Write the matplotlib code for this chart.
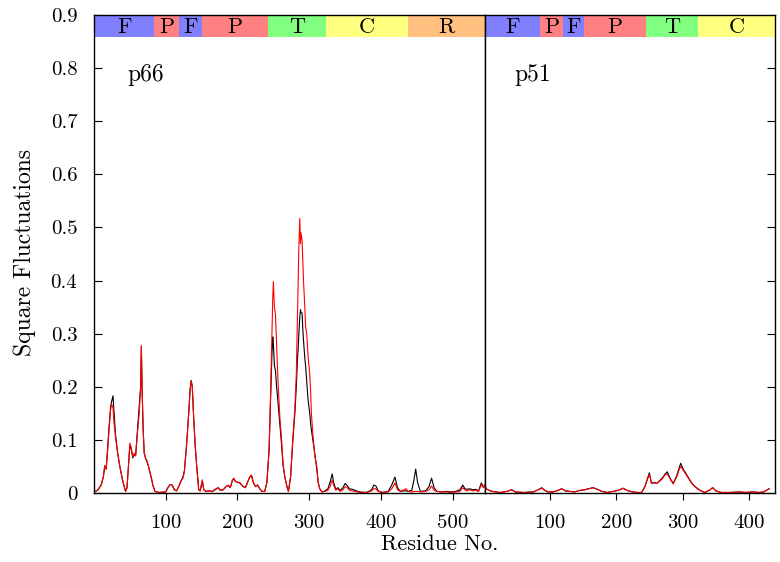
import matplotlib
matplotlib.use('Agg')
import matplotlib.pyplot as plt

plt.rcParams['font.family'] = 'serif'
plt.rcParams['font.serif'] = ['cmr10', 'DejaVu Serif']
plt.rcParams['axes.formatter.use_mathtext'] = True

# p66 chain: residue, black curve, red curve
p66_res = [0, 5, 10, 13, 15, 17, 19, 21, 23, 24.5, 26.5, 28, 30, 33, 36, 40, 44, 46, 48, 50,
           52, 54, 56, 58, 61, 63, 65, 66, 67, 68.5, 70, 72, 74, 76, 78, 80, 82, 85, 90, 100,
           103, 106, 109, 112, 115, 119, 121, 124, 126, 129, 132, 134, 135.5, 137, 139, 141, 143.5, 146, 148, 151,
           153, 156, 160, 165, 170, 173, 176, 180, 184, 187, 190, 193, 195, 197, 200, 203, 206, 208, 211, 214,
           217, 219.5, 222, 225, 228, 231, 234, 238, 241, 244, 246, 248, 249.2, 250, 251.5, 253, 254.5, 256.5, 259, 261.5,
           263.5, 266, 269, 271, 274, 277, 280, 282, 283.5, 284.5, 285.5, 286.8, 287.8, 288.5, 290, 291, 292, 293.5, 295, 296.5,
           298.4, 300.7, 302, 303, 305, 307.7, 310.5, 312.5, 314.6, 318, 322, 326, 329, 332, 334, 337, 340, 343, 347, 350,
           353, 356, 360, 364, 370, 380, 387, 390, 393, 396, 402, 410, 415, 419.5, 423, 427, 432, 435, 438, 443,
           446, 448.4, 451, 455, 462, 467, 470.5, 474, 478, 485, 492, 498, 504, 510, 514, 517, 520, 524, 528, 532,
           536, 540, 543, 544.5]
p66_black = [0.002, 0.005, 0.015, 0.03, 0.05, 0.045, 0.085, 0.125, 0.16, 0.172, 0.183, 0.15, 0.11, 0.075, 0.05, 0.022, 0.003, 0.01, 0.05, 0.09,
             0.082, 0.066, 0.072, 0.07, 0.125, 0.16, 0.2, 0.275, 0.2, 0.12, 0.075, 0.065, 0.058, 0.05, 0.038, 0.028, 0.015, 0.003, 0.001, 0.002,
             0.01, 0.016, 0.015, 0.006, 0.004, 0.015, 0.022, 0.03, 0.042, 0.09, 0.15, 0.195, 0.212, 0.2, 0.14, 0.09, 0.045, 0.006, 0.004, 0.022,
             0.006, 0.003, 0.004, 0.003, 0.007, 0.01, 0.005, 0.006, 0.012, 0.014, 0.01, 0.024, 0.027, 0.022, 0.02, 0.019, 0.015, 0.012, 0.01, 0.02,
             0.03, 0.033, 0.02, 0.012, 0.015, 0.008, 0.003, 0.003, 0.02, 0.08, 0.17, 0.26, 0.294, 0.28, 0.24, 0.23, 0.2, 0.17, 0.13, 0.09,
             0.052, 0.03, 0.012, 0.003, 0.03, 0.095, 0.15, 0.2, 0.25, 0.27, 0.3, 0.33, 0.345, 0.34, 0.339, 0.31, 0.288, 0.26, 0.238, 0.21,
             0.175, 0.15, 0.13, 0.119, 0.1, 0.075, 0.045, 0.02, 0.008, 0.002, 0.004, 0.008, 0.02, 0.036, 0.02, 0.007, 0.01, 0.005, 0.01, 0.018,
             0.014, 0.008, 0.007, 0.005, 0.002, 0.001, 0.006, 0.015, 0.013, 0.004, 0.001, 0.003, 0.015, 0.03, 0.01, 0.003, 0.004, 0.004, 0.003, 0.005,
             0.025, 0.045, 0.02, 0.003, 0.004, 0.012, 0.028, 0.01, 0.003, 0.002, 0.003, 0.002, 0.003, 0.006, 0.015, 0.008, 0.007, 0.008, 0.006, 0.007,
             0.004, 0.019, 0.01, 0.015]
p66_red = [0.002, 0.005, 0.015, 0.03, 0.052, 0.045, 0.08, 0.12, 0.155, 0.168, 0.16, 0.13, 0.105, 0.075, 0.05, 0.024, 0.003, 0.01, 0.05, 0.094,
           0.085, 0.068, 0.075, 0.07, 0.12, 0.15, 0.2, 0.278, 0.2, 0.12, 0.075, 0.065, 0.06, 0.05, 0.04, 0.028, 0.015, 0.003, 0.001, 0.002,
           0.01, 0.016, 0.015, 0.006, 0.004, 0.015, 0.022, 0.028, 0.04, 0.09, 0.15, 0.195, 0.21, 0.2, 0.14, 0.09, 0.045, 0.006, 0.004, 0.025,
           0.006, 0.003, 0.004, 0.003, 0.008, 0.01, 0.005, 0.006, 0.012, 0.015, 0.01, 0.025, 0.028, 0.022, 0.02, 0.02, 0.015, 0.012, 0.01, 0.02,
           0.03, 0.034, 0.02, 0.012, 0.015, 0.008, 0.003, 0.003, 0.02, 0.08, 0.18, 0.3, 0.37, 0.398, 0.35, 0.335, 0.28, 0.21, 0.144, 0.1,
           0.056, 0.03, 0.012, 0.003, 0.03, 0.1, 0.16, 0.225, 0.33, 0.4, 0.46, 0.517, 0.47, 0.49, 0.476, 0.44, 0.4, 0.36, 0.313, 0.3,
           0.257, 0.225, 0.19, 0.15, 0.112, 0.07, 0.05, 0.02, 0.008, 0.002, 0.003, 0.005, 0.012, 0.024, 0.015, 0.005, 0.008, 0.003, 0.006, 0.012,
           0.01, 0.005, 0.004, 0.003, 0.001, 0.001, 0.004, 0.008, 0.008, 0.003, 0.001, 0.002, 0.008, 0.019, 0.006, 0.003, 0.006, 0.008, 0.003, 0.002,
           0.003, 0.003, 0.003, 0.002, 0.003, 0.006, 0.013, 0.005, 0.003, 0.002, 0.002, 0.001, 0.002, 0.003, 0.01, 0.006, 0.004, 0.006, 0.004, 0.005,
           0.003, 0.016, 0.01, 0.015]

# p51 chain
p51_res = [2, 5, 10, 17, 25, 35, 42, 48, 60, 75, 82, 87.5, 92, 97, 105, 112, 117.6, 123, 130, 137,
           145, 152, 158, 165, 171, 178, 186, 195, 203, 210, 216, 224, 232, 238, 243, 247, 249.6, 253, 257, 261,
           265, 269, 273, 276.7, 280.8, 285.6, 290.8, 294, 296.8, 300.7, 304.7, 309, 313.4, 318.4, 323, 326, 333, 340, 345, 350,
           358, 370, 385, 395, 405, 415, 422, 426, 430]
p51_black = [0.012, 0.007, 0.004, 0.002, 0.001, 0.003, 0.006, 0.002, 0.001, 0.002, 0.006, 0.01, 0.005, 0.002, 0.002, 0.005, 0.008, 0.004, 0.003, 0.002,
             0.005, 0.006, 0.008, 0.01, 0.007, 0.003, 0.001, 0.003, 0.005, 0.009, 0.005, 0.002, 0.001, 0.001, 0.012, 0.028, 0.038, 0.018, 0.02, 0.018,
             0.023, 0.028, 0.035, 0.04, 0.028, 0.018, 0.032, 0.045, 0.056, 0.045, 0.037, 0.028, 0.019, 0.012, 0.008, 0.005, 0.001, 0.005, 0.01, 0.004,
             0.001, 0.001, 0.002, 0.001, 0.002, 0.001, 0.002, 0.005, 0.008]
p51_red = [0.01, 0.007, 0.004, 0.002, 0.001, 0.003, 0.006, 0.002, 0.001, 0.002, 0.006, 0.009, 0.005, 0.002, 0.002, 0.005, 0.008, 0.004, 0.003, 0.002,
           0.005, 0.006, 0.008, 0.01, 0.007, 0.003, 0.001, 0.003, 0.005, 0.009, 0.005, 0.002, 0.001, 0.001, 0.012, 0.026, 0.035, 0.018, 0.019, 0.018,
           0.022, 0.026, 0.034, 0.036, 0.027, 0.017, 0.03, 0.042, 0.05, 0.043, 0.035, 0.027, 0.018, 0.012, 0.007, 0.005, 0.001, 0.005, 0.01, 0.004,
           0.001, 0.001, 0.002, 0.001, 0.002, 0.001, 0.002, 0.005, 0.008]

# subdomain bars (boundaries, labels); last boundary = panel end
p66_dom_edges = [0, 84, 119, 150, 243, 323, 437, 545]
p66_dom_labels = ['F', 'P', 'F', 'P', 'T', 'C', 'R']
p51_dom_edges = [2, 85, 119, 151, 244, 323, 439]
p51_dom_labels = ['F', 'P', 'F', 'P', 'T', 'C']
dom_colors = {'F': '#8080ff', 'P': '#ff8080', 'T': '#80ff80', 'C': '#ffff80', 'R': '#ffc080'}

fig = plt.figure(figsize=(7.8, 5.62), dpi=100)
W, H = 780.0, 562.0
x0, xm, x1 = 94, 485, 775
yb, yt = 493, 15
ax1 = fig.add_axes([x0/W, 1-yb/H, (xm-x0)/W, (yb-yt)/H])
ax2 = fig.add_axes([xm/W, 1-yb/H, (x1-xm)/W, (yb-yt)/H])

bar_lo, bar_hi = 0.859, 0.9

def draw_panel(ax, res, black, red, edges, labels, name, xlim, xticks):
    ax.plot(res, black, color='black', lw=0.8)
    ax.plot(res, red, color='red', lw=0.8)
    for i, lab in enumerate(labels):
        ax.bar(edges[i], bar_hi-bar_lo, bottom=bar_lo, width=edges[i+1]-edges[i], align='edge',
               color=dom_colors[lab], linewidth=0, zorder=3)
        ax.text((edges[i]+edges[i+1])/2.0, (bar_lo+bar_hi)/2.0 - 0.002, lab, ha='center', va='center',
                fontsize=16, zorder=4)
    ax.text(47, 0.787, name, ha='left', va='center', fontsize=17)
    ax.set_xlim(xlim)
    ax.set_ylim(0, 0.9)
    ax.set_xticks(xticks)
    ax.set_xticklabels([str(t) for t in xticks])
    ax.set_yticks([0.1*i for i in range(10)])
    ax.tick_params(labelsize=15, top=False)
    ax.tick_params(axis='x', direction='out', length=5, pad=10)
    ax.tick_params(axis='y', direction='in', length=6, pad=12)
    for sp in ax.spines.values():
        sp.set_linewidth(1.0)
        sp.set_zorder(5)

draw_panel(ax1, p66_res, p66_black, p66_red, p66_dom_edges, p66_dom_labels, 'p66', (0, 545), [100, 200, 300, 400, 500])
draw_panel(ax2, p51_res, p51_black, p51_red, p51_dom_edges, p51_dom_labels, 'p51', (2, 439), [100, 200, 300, 400])

ax1.set_yticklabels(['0'] + ['%.1f' % (0.1*i) for i in range(1, 10)])
ax1.tick_params(right=False)
ax2.tick_params(left=False, right=True, labelleft=False)

fig.text(440/W, 1-544/H, 'Residue No.', ha='center', va='center', fontsize=16)
fig.text(25/W, 1-252/H, 'Square Fluctuations', ha='center', va='center', rotation=90, fontsize=17)

fig.savefig('out.png', dpi=100)
